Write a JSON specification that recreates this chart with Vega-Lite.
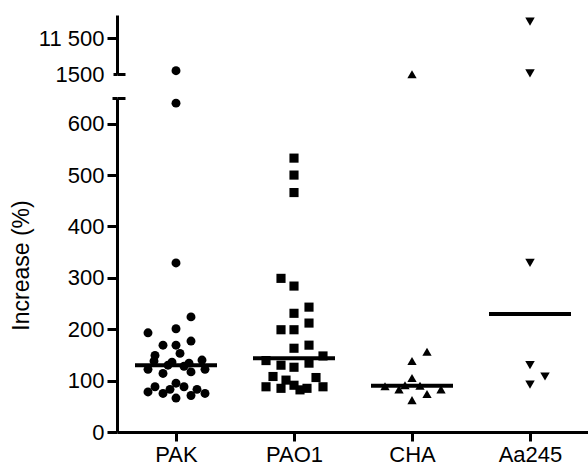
{
  "$schema": "https://vega.github.io/schema/vega-lite/v6.json",
  "padding": {"left": 10, "top": 15, "right": 0, "bottom": 0},
  "config": {
    "view": {"stroke": null},
    "font": "Liberation Sans",
    "axis": {
      "labelFont": "Liberation Sans",
      "titleFont": "Liberation Sans",
      "labelColor": "black",
      "titleColor": "black",
      "domainColor": "black",
      "tickColor": "black",
      "domainWidth": 3,
      "tickWidth": 3,
      "labelFontSize": 22,
      "grid": false
    }
  },
  "data": {
    "values": [
      {"strain": "PAK", "value": 2420, "jitter": 0},
      {"strain": "PAK", "value": 640, "jitter": 0},
      {"strain": "PAK", "value": 329, "jitter": 0},
      {"strain": "PAK", "value": 224, "jitter": 15},
      {"strain": "PAK", "value": 201, "jitter": 0},
      {"strain": "PAK", "value": 193, "jitter": -28},
      {"strain": "PAK", "value": 177, "jitter": 15},
      {"strain": "PAK", "value": 169, "jitter": -13},
      {"strain": "PAK", "value": 169, "jitter": 0},
      {"strain": "PAK", "value": 153, "jitter": 4},
      {"strain": "PAK", "value": 149, "jitter": -21},
      {"strain": "PAK", "value": 138, "jitter": -22},
      {"strain": "PAK", "value": 136, "jitter": -4},
      {"strain": "PAK", "value": 134, "jitter": 13},
      {"strain": "PAK", "value": 140, "jitter": 26},
      {"strain": "PAK", "value": 130, "jitter": -8},
      {"strain": "PAK", "value": 128, "jitter": 8},
      {"strain": "PAK", "value": 122, "jitter": -28},
      {"strain": "PAK", "value": 114, "jitter": -13},
      {"strain": "PAK", "value": 117, "jitter": 15},
      {"strain": "PAK", "value": 122, "jitter": 29},
      {"strain": "PAK", "value": 78, "jitter": -28},
      {"strain": "PAK", "value": 88, "jitter": -21},
      {"strain": "PAK", "value": 75, "jitter": -13},
      {"strain": "PAK", "value": 83, "jitter": -6},
      {"strain": "PAK", "value": 95, "jitter": 0},
      {"strain": "PAK", "value": 66, "jitter": 0},
      {"strain": "PAK", "value": 88, "jitter": 8},
      {"strain": "PAK", "value": 71, "jitter": 15},
      {"strain": "PAK", "value": 83, "jitter": 21},
      {"strain": "PAK", "value": 75, "jitter": 29},
      {"strain": "PAO1", "value": 533, "jitter": 0},
      {"strain": "PAO1", "value": 500, "jitter": 0},
      {"strain": "PAO1", "value": 466, "jitter": 0},
      {"strain": "PAO1", "value": 299, "jitter": -13},
      {"strain": "PAO1", "value": 284, "jitter": 0},
      {"strain": "PAO1", "value": 243, "jitter": 15},
      {"strain": "PAO1", "value": 231, "jitter": 0},
      {"strain": "PAO1", "value": 212, "jitter": 15},
      {"strain": "PAO1", "value": 199, "jitter": -13},
      {"strain": "PAO1", "value": 199, "jitter": 0},
      {"strain": "PAO1", "value": 169, "jitter": 15},
      {"strain": "PAO1", "value": 163, "jitter": 0},
      {"strain": "PAO1", "value": 148, "jitter": 29},
      {"strain": "PAO1", "value": 139, "jitter": -28},
      {"strain": "PAO1", "value": 134, "jitter": 15},
      {"strain": "PAO1", "value": 130, "jitter": -13},
      {"strain": "PAO1", "value": 126, "jitter": 0},
      {"strain": "PAO1", "value": 108, "jitter": -21},
      {"strain": "PAO1", "value": 106, "jitter": 22},
      {"strain": "PAO1", "value": 101, "jitter": -8},
      {"strain": "PAO1", "value": 88, "jitter": -28},
      {"strain": "PAO1", "value": 85, "jitter": -13},
      {"strain": "PAO1", "value": 91, "jitter": 0},
      {"strain": "PAO1", "value": 82, "jitter": 6},
      {"strain": "PAO1", "value": 85, "jitter": 13},
      {"strain": "PAO1", "value": 88, "jitter": 29},
      {"strain": "CHA", "value": 1450, "jitter": 0},
      {"strain": "CHA", "value": 156, "jitter": 15},
      {"strain": "CHA", "value": 138, "jitter": 0},
      {"strain": "CHA", "value": 105, "jitter": 0},
      {"strain": "CHA", "value": 89, "jitter": -27},
      {"strain": "CHA", "value": 83, "jitter": -13},
      {"strain": "CHA", "value": 91, "jitter": -7},
      {"strain": "CHA", "value": 90, "jitter": 8},
      {"strain": "CHA", "value": 74, "jitter": 15},
      {"strain": "CHA", "value": 83, "jitter": 29},
      {"strain": "CHA", "value": 62, "jitter": 0},
      {"strain": "Aa245", "value": 16040, "jitter": 0},
      {"strain": "Aa245", "value": 1700, "jitter": 0},
      {"strain": "Aa245", "value": 329, "jitter": 0},
      {"strain": "Aa245", "value": 130, "jitter": 0},
      {"strain": "Aa245", "value": 108, "jitter": 15},
      {"strain": "Aa245", "value": 92, "jitter": 0}
    ]
  },
  "spacing": 24,
  "bounds": "flush",
  "vconcat": [
    {
      "width": 472,
      "height": 59,
      "layer": [
        {
          "transform": [{"filter": "datum.value >= 1000 && datum.strain != 'Aa245'"}],
          "mark": {"type": "point", "filled": true, "opacity": 1, "color": "black", "strokeWidth": 0},
          "encoding": {
            "x": {"field": "strain", "type": "nominal", "scale": {"type": "point", "domain": ["PAK", "PAO1", "CHA", "Aa245"], "padding": 0.5}, "axis": null},
            "xOffset": {"field": "jitter", "type": "quantitative", "scale": {"domain": [-40, 40], "range": [-40, 40]}},
            "y": {
              "field": "value", "type": "quantitative",
              "scale": {"domain": [1500, 17900], "nice": false, "zero": false},
              "axis": {
                "orient": "left",
                "values": [1500, 11500],
                "labelExpr": "datum.value == 11500 ? '11 500' : '1500'",
                "tickSize": {"condition": {"test": "datum.value == 1500", "value": 4}, "value": 10},
                "labelPadding": {"condition": {"test": "datum.value == 1500", "value": 9}, "value": 3},
                "title": null
              }
            },
            "shape": {"field": "strain", "type": "nominal", "scale": {"domain": ["PAK", "PAO1", "CHA", "Aa245"], "range": ["circle", "square", "triangle-up", "triangle-down"]}, "legend": null},
            "size": {"field": "strain", "type": "ordinal", "scale": {"domain": ["PAK", "PAO1", "CHA", "Aa245"], "range": [80, 90, 115, 115]}, "legend": null}
          }
        },
        {
          "transform": [{"filter": "datum.value >= 1000 && datum.strain == 'Aa245'"}],
          "mark": {"type": "point", "filled": true, "opacity": 1, "color": "black", "strokeWidth": 0},
          "encoding": {
            "x": {"field": "strain", "type": "nominal", "scale": {"type": "point", "domain": ["PAK", "PAO1", "CHA", "Aa245"], "padding": 0.5}, "axis": null},
            "xOffset": {"field": "jitter", "type": "quantitative", "scale": {"domain": [-40, 40], "range": [-40, 40]}},
            "y": {
              "field": "value", "type": "quantitative",
              "axis": {"orient": "left", "values": [1500], "tickSize": -8, "domain": false, "labels": false, "title": null}
            },
            "shape": {"field": "strain", "type": "nominal", "legend": null},
            "size": {"field": "strain", "type": "ordinal", "legend": null}
          }
        }
      ],
      "resolve": {"axis": {"y": "independent"}}
    },
    {
      "width": 472,
      "height": 334,
      "layer": [
        {
          "transform": [{"filter": "datum.value < 1000"}],
          "mark": {"type": "point", "filled": true, "opacity": 1, "color": "black", "strokeWidth": 0},
          "encoding": {
            "x": {
              "field": "strain", "type": "nominal",
              "scale": {"type": "point", "domain": ["PAK", "PAO1", "CHA", "Aa245"], "padding": 0.5},
              "axis": {"title": null, "labelAngle": 0, "tickSize": 9, "labelPadding": 3, "labelFontSize": 22}
            },
            "xOffset": {"field": "jitter", "type": "quantitative", "scale": {"domain": [-40, 40], "range": [-40, 40]}},
            "y": {
              "field": "value", "type": "quantitative",
              "scale": {"domain": [0, 650], "nice": false},
              "axis": {
                "orient": "left",
                "values": [0, 100, 200, 300, 400, 500, 600, 650],
                "labelExpr": "datum.value == 650 ? '' : datum.label",
                "tickSize": {"condition": {"test": "datum.value == 650", "value": 5}, "value": 10},
                "labelPadding": 3,
                "title": "Increase (%)",
                "titleFontSize": 23,
                "titleFontWeight": "normal",
                "titlePadding": 34
              }
            },
            "shape": {"field": "strain", "type": "nominal", "scale": {"domain": ["PAK", "PAO1", "CHA", "Aa245"], "range": ["circle", "square", "triangle-up", "triangle-down"]}, "legend": null},
            "size": {"field": "strain", "type": "ordinal", "scale": {"domain": ["PAK", "PAO1", "CHA", "Aa245"], "range": [80, 90, 115, 115]}, "legend": null}
          }
        },
        {
          "transform": [{"aggregate": [{"op": "median", "field": "value", "as": "value"}], "groupby": ["strain"]}],
          "mark": {"type": "tick", "size": 82, "thickness": 4, "color": "black", "opacity": 1},
          "encoding": {
            "x": {"field": "strain", "type": "nominal"},
            "y": {
              "field": "value", "type": "quantitative",
              "axis": {"orient": "left", "values": [650], "tickSize": -8, "domain": false, "labels": false, "title": null}
            }
          }
        }
      ],
      "resolve": {"axis": {"y": "independent"}}
    }
  ]
}
